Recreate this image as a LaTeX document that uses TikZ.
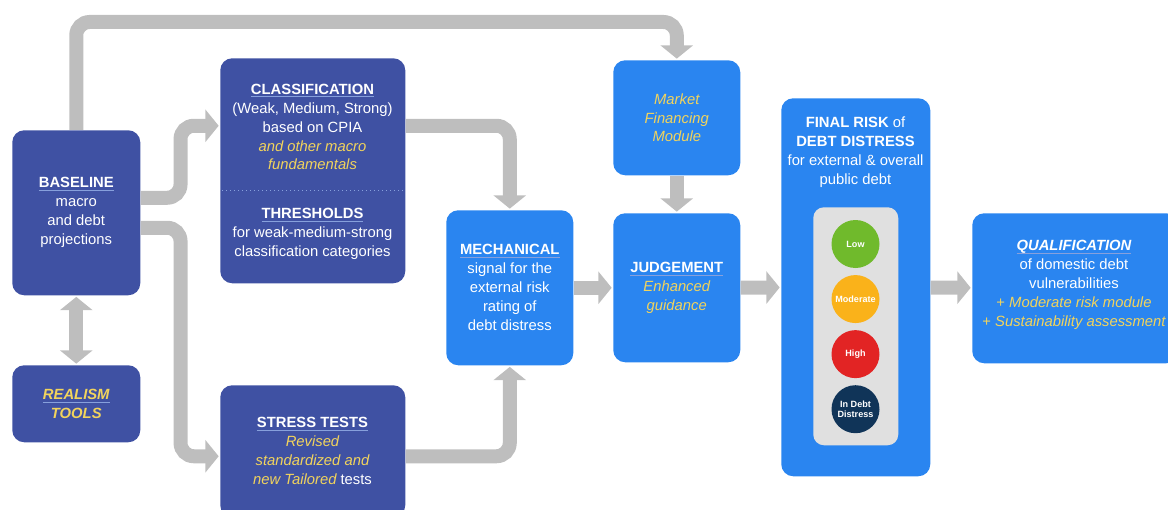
\documentclass[tikz,border=0pt]{standalone}
\usepackage{fontspec}
\setmainfont{Liberation Sans}
\usetikzlibrary{positioning,arrows.meta,calc}

\definecolor{darkblue}{RGB}{63,81,163}
\definecolor{brightblue}{RGB}{42,133,240}
\definecolor{flowgray}{RGB}{190,190,190}
\definecolor{ylw}{RGB}{242,212,92}
\definecolor{uline}{RGB}{135,160,220}
\definecolor{panelgray}{RGB}{224,224,224}
\definecolor{lowgreen}{RGB}{112,186,44}
\definecolor{modorange}{RGB}{250,178,26}
\definecolor{highred}{RGB}{226,36,36}
\definecolor{distnavy}{RGB}{16,52,88}

\newcommand{\boxtitle}[1]{\setbox0=\hbox{\bfseries #1}\leavevmode\rlap{\color{uline}\rule[-2.2pt]{\wd0}{0.5pt}}\box0}

\begin{document}
\begin{tikzpicture}[
  x=0.75pt, y=-0.75pt,
  every node/.style={font=\fontsize{11.1}{14.2}\selectfont, align=center, text=white},
  px/.style 2 args={minimum width=#1*0.75pt, minimum height=#2*0.75pt},
  dbox/.style={fill=darkblue, rounded corners=9pt, anchor=north west, inner sep=0pt},
  bbox/.style={fill=brightblue, rounded corners=9pt, anchor=north west, inner sep=0pt},
  lamp/.style={circle, minimum size=36pt, inner sep=0pt, font=\bfseries\fontsize{6.8}{7.6}\selectfont},
  flow/.style={draw=flowgray, line width=10.5pt, rounded corners=10pt, -{Triangle[width=24pt,length=10pt]}, shorten >=1pt},
  hint/.style={text=ylw, font=\itshape\fontsize{11.1}{14.2}\selectfont}
]
\useasboundingbox (0,0) rectangle (1168,510);
\clip (0,0) rectangle (1168,510);

% left column
\node[dbox, px={128}{165}] (base) at (12,130) {\boxtitle{BASELINE}\\macro\\and debt\\projections};
\node[dbox, px={128}{77}, text=ylw, font=\bfseries\itshape\fontsize{11.1}{14.2}\selectfont] (real) at (12,365) {\boxtitle{REALISM}\\TOOLS};

% classification / thresholds
\node[dbox, px={185}{225}] (clas) at (220,58) {};
\node (clastxt) at (312.5,127) {\boxtitle{CLASSIFICATION}\\(Weak, Medium, Strong)\\based on CPIA\\{\itshape\color{ylw}and other macro}\\{\itshape\color{ylw}fundamentals}};
\node (thr) at (312.5,234) {\boxtitle{THRESHOLDS}\\for weak-medium-strong\\classification categories};
\draw[uline, line width=1pt, dotted] ($(clas.west)+(2,19.5)$) -- ($(clas.east)+(-2,19.5)$);

\node[dbox, px={185}{132}] (stress) at (220,385) {};
\node (stresstxt) at (312.5,451) {\boxtitle{STRESS TESTS}\\{\itshape\color{ylw}Revised}\\{\itshape\color{ylw}standardized and}\\{\itshape\color{ylw}new Tailored} tests};

% middle
\node[bbox, px={127}{155}] (mech) at (446,210) {\boxtitle{MECHANICAL}\\signal for the\\external risk\\rating of\\debt distress};
\node[bbox, px={127}{115}, hint] (mkt) at (613,60) {Market\\Financing\\Module};
\node[bbox, px={127}{149}] (judge) at (613,213) {\boxtitle{JUDGEMENT}\\{\itshape\color{ylw}Enhanced}\\{\itshape\color{ylw}guidance}};

% final rating
\node[bbox, px={149}{378}] (final) at (781,98) {};
\node (finaltxt) at (855.5,152) {\textbf{FINAL RISK} of\\\textbf{DEBT DISTRESS}\\for external \& overall\\public debt};
\node[fill=panelgray, rounded corners=8pt, anchor=north west, px={85}{238}] (panel) at (813,207) {};
\node[lamp, fill=lowgreen] (low) at (855.5,244) {Low};
\node[lamp, fill=modorange, below=4.9pt of low] (mod) {Moderate};
\node[lamp, fill=highred, below=4.9pt of mod] (high) {High};
\node[lamp, fill=distnavy, below=4.9pt of high] (dist) {In Debt\\Distress};

\node[bbox, px={206}{150}] (qual) at (972,213) {};
\node (qualtxt) at (1074,285) {\boxtitle{\itshape QUALIFICATION}\\of domestic debt\\vulnerabilities\\{\color{ylw}+ \itshape Moderate risk module}\\{\color{ylw}+ \itshape Sustainability assessment}};

% connectors
\draw[flow] (base.north) -- ++(0,-108) -| (mkt.north);
\draw[flow] ($(base.east)+(0,-15)$) -- ++(40,0) |- ($(clas.west)+(0,-45)$);
\draw[flow] ($(base.east)+(0,15)$) -- ++(40,0) |- ($(stress.west)+(0,5)$);
\draw[flow, {Triangle[width=24pt,length=10pt]}-{Triangle[width=24pt,length=10pt]}, shorten <=1pt] (base.south) -- (real.north);
\draw[flow] ($(clas.east)+(0,-45)$) -| (mech.north);
\draw[flow] ($(stress.east)+(0,5)$) -| (mech.south);
\draw[flow] (mech) -- (judge);
\draw[flow] (mkt) -- (judge);
\draw[flow] (judge) -- (final);
\draw[flow] (final) -- (qual);
\end{tikzpicture}
\end{document}
